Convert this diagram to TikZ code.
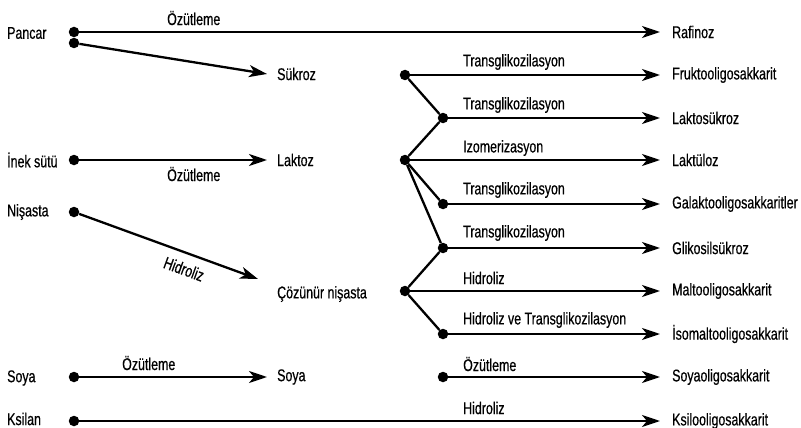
\documentclass[tikz,border=0pt]{standalone}
\usepackage{fontspec}
\setmainfont{Liberation Sans}[FakeStretch=0.73, FakeBold=0.5]
\usetikzlibrary{arrows.meta,positioning}

\begin{document}
\begin{tikzpicture}[
    x=1pt, y=-1pt,
    font=\fontsize{17}{20}\selectfont,
    dot/.style={circle, fill, inner sep=0pt, minimum size=10.5pt},
    src/.style={anchor=west, inner xsep=2pt, inner ysep=0pt},
    mid/.style={anchor=west, inner xsep=10pt, inner ysep=0pt},
    prod/.style={anchor=west, inner xsep=12pt, inner ysep=0pt},
    lbl/.style={anchor=west, inner sep=0pt},
    arrow/.style={-{Stealth[length=18pt, width=12pt, inset=5pt]}, line width=2.3pt},
    link/.style={line width=2.3pt}
  ]
    \useasboundingbox (0,0) rectangle (801,428);

    % sources
    \node[src] (pancar) at (5,33) {Pancar};
    \node[src] (inek) at (5,160) {İnek sütü};
    \node[src] (nisasta) at (5,212) {Nişasta};
    \node[src] (soyasrc) at (5,378) {Soya};
    \node[src] (ksilan) at (5,419) {Ksilan};

    % dots
    \node[dot] (d-pancar) at (74,32) {};
    \node[dot] (d-pancar2) at (74,43) {};
    \node[dot] (d-inek) at (74,160) {};
    \node[dot] (d-nis) at (74,212) {};
    \node[dot] (d-soya) at (74,377) {};
    \node[dot] (d-ksilan) at (74,421) {};
    \node[dot] (d-suk) at (405,75) {};
    \node[dot] (d-lak1) at (443,118) {};
    \node[dot] (d-lak) at (405,160) {};
    \node[dot] (d-lak2) at (443,204) {};
    \node[dot] (d-glik) at (443,248) {};
    \node[dot] (d-coz) at (405,291) {};
    \node[dot] (d-iso) at (443,334) {};
    \node[dot] (d-soyaol) at (443,377) {};

    % intermediates
    \node[mid] (sukroz) at (267,74) {Sükroz};
    \node[mid] (laktoz) at (267,160) {Laktoz};
    \node[mid] (coz) at (267,294) {Çözünür nişasta};
    \node[mid] (soya) at (267,377) {Soya};
    \coordinate (hyd) at (258,279);

    % products
    \node[prod] (raf) at (660,32) {Rafinoz};
    \node[prod] (frukto) at (660,75) {Fruktooligosakkarit};
    \node[prod] (laktosuk) at (660,118) {Laktosükroz};
    \node[prod] (laktuloz) at (660,160) {Laktüloz};
    \node[prod] (galakto) at (660,204) {Galaktooligosakkaritler};
    \node[prod] (glikosil) at (660,248) {Glikosilsükroz};
    \node[prod] (malto) at (660,291) {Maltooligosakkarit};
    \node[prod] (isomalt) at (660,334) {İsomaltooligosakkarit};
    \node[prod] (soyaol) at (660,377) {Soyaoligosakkarit};
    \node[prod] (ksilo) at (660,421) {Ksilooligosakkarit};

    % process labels
    \node[lbl] (l-raf) at (167,18) {Özütleme};
    \node[lbl] (l-lak) at (167,174) {Özütleme};
    \node[lbl] (l-soya) at (122,363) {Özütleme};
    \node[rotate=-20, inner sep=0pt] (l-nis) at (184,269) {Hidroliz};
    \node[lbl] (l-fru) at (463,62) {Transglikozilasyon};
    \node[lbl] (l-lsuk) at (463,105) {Transglikozilasyon};
    \node[lbl] (l-lul) at (463,148) {Izomerizasyon};
    \node[lbl] (l-gal) at (463,190) {Transglikozilasyon};
    \node[lbl] (l-gli) at (463,233) {Transglikozilasyon};
    \node[lbl] (l-mal) at (463,278) {Hidroliz};
    \node[lbl] (l-iso) at (463,320) {Hidroliz ve Transglikozilasyon};
    \node[lbl] (l-soy) at (463,364) {Özütleme};
    \node[lbl] (l-ksi) at (463,408) {Hidroliz};

    % arrows
    \draw[arrow] (d-pancar) -- (raf);
    \draw[arrow] (d-pancar2) -- (sukroz.west);
    \draw[arrow] (d-inek) -- (laktoz);
    \draw[arrow] (d-nis) -- (hyd);
    \draw[arrow] (d-soya) -- (soya);
    \draw[arrow] (d-ksilan) -- (ksilo);
    \draw[arrow] (d-suk) -- (frukto);
    \draw[arrow] (d-lak1) -- (laktosuk);
    \draw[arrow] (d-lak) -- (laktuloz);
    \draw[arrow] (d-lak2) -- (galakto);
    \draw[arrow] (d-glik) -- (glikosil);
    \draw[arrow] (d-coz) -- (malto);
    \draw[arrow] (d-iso) -- (isomalt);
    \draw[arrow] (d-soyaol) -- (soyaol);

    % branches
    \draw[link] (d-suk) -- (d-lak1);
    \draw[link] (d-lak1) -- (d-lak);
    \draw[link] (d-lak) -- (d-lak2);
    \draw[link] (d-lak) -- (d-glik);
    \draw[link] (d-coz) -- (d-glik);
    \draw[link] (d-coz) -- (d-iso);
  \end{tikzpicture}
\end{document}
